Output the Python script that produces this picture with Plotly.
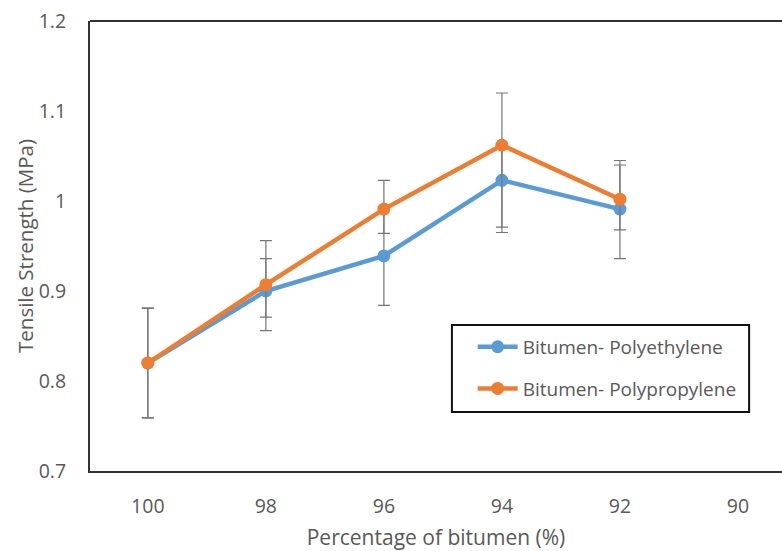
import plotly.graph_objects as go

categories = ["100", "98", "96", "94", "92", "90"]
pe_values = [0.820, 0.900, 0.939, 1.023, 0.991, None]
pp_values = [0.820, 0.907, 0.991, 1.062, 1.002, None]
pe_err_plus = [0.061, 0.036, 0.055, 0.040, 0.049, None]
pe_err_minus = [0.061, 0.029, 0.055, 0.058, 0.055, None]
pp_err_plus = [0.061, 0.049, 0.032, 0.058, 0.043, None]
pp_err_minus = [0.061, 0.051, 0.027, 0.091, 0.034, None]

y_ticks = [0.7, 0.8, 0.9, 1.0, 1.1, 1.2]
y_ticktext = ["0.7", "0.8", "0.9", "1", "1.1", "1.2"]

FONT = "Open Sans"
TXT = "#595959"
BLUE = "#5B9BD5"
ORANGE = "#ED7D31"
ERR = "#767676"
AX = "#333333"

fig = go.Figure()
fig.add_trace(go.Scatter(
    x=categories, y=pe_values, name="Bitumen- Polyethylene",
    mode="lines+markers", legendgroup="a",
    line=dict(color=BLUE, width=4.5), marker=dict(color=BLUE, size=13),
    error_y=dict(type="data", symmetric=False, array=pe_err_plus,
                 arrayminus=pe_err_minus, color=ERR, thickness=1.2, width=6),
))
fig.add_trace(go.Scatter(
    x=categories, y=pp_values, name="Bitumen- Polypropylene",
    mode="lines+markers", legendgroup="b",
    line=dict(color=ORANGE, width=4.5), marker=dict(color=ORANGE, size=13),
    error_y=dict(type="data", symmetric=False, array=pp_err_plus,
                 arrayminus=pp_err_minus, color=ERR, thickness=1.2, width=6),
))

fig.update_layout(
    width=782, height=551,
    margin=dict(l=90, r=0, t=21, b=80),
    paper_bgcolor="white", plot_bgcolor="white",
    font=dict(family=FONT, color=TXT, size=18),
    showlegend=True,
    legend=dict(
        x=0.553, y=0.318, xanchor="left", yanchor="top",
        bgcolor="rgba(0,0,0,0)", borderwidth=0,
        font=dict(family=FONT, size=19, color=TXT),
        tracegroupgap=14, traceorder="grouped", itemwidth=40,
    ),
    xaxis=dict(
        type="category", categoryorder="array", categoryarray=categories,
        range=[-0.49, 5.373],
        showline=True, linecolor=AX, linewidth=2,
        showgrid=False, zeroline=False, ticks="",
        ticklabelstandoff=17,
        tickfont=dict(size=19.5, color=TXT, family=FONT),
        title=dict(text="Percentage of bitumen (%)",
                   font=dict(size=21, color=TXT, family=FONT), standoff=12),
        fixedrange=True,
    ),
    yaxis=dict(
        range=[0.7, 1.2], tickvals=y_ticks, ticktext=y_ticktext,
        showline=True, linecolor=AX, linewidth=2,
        showgrid=False, zeroline=False, ticks="",
        ticklabelstandoff=18,
        tickfont=dict(size=19.5, color=TXT, family=FONT),
        title=dict(text="Tensile Strength (MPa)",
                   font=dict(size=20.5, color=TXT, family=FONT), standoff=0),
        fixedrange=True,
    ),
    shapes=[
        dict(type="line", xref="paper", yref="paper", x0=0, x1=1, y0=1, y1=1,
             line=dict(color=AX, width=2)),
        dict(type="rect", xref="paper", yref="paper",
             x0=0.523, x1=0.9525, y0=0.1311, y1=0.3244,
             line=dict(color="#111111", width=2), fillcolor="rgba(0,0,0,0)"),
    ],
)

fig.write_html("out.html")
